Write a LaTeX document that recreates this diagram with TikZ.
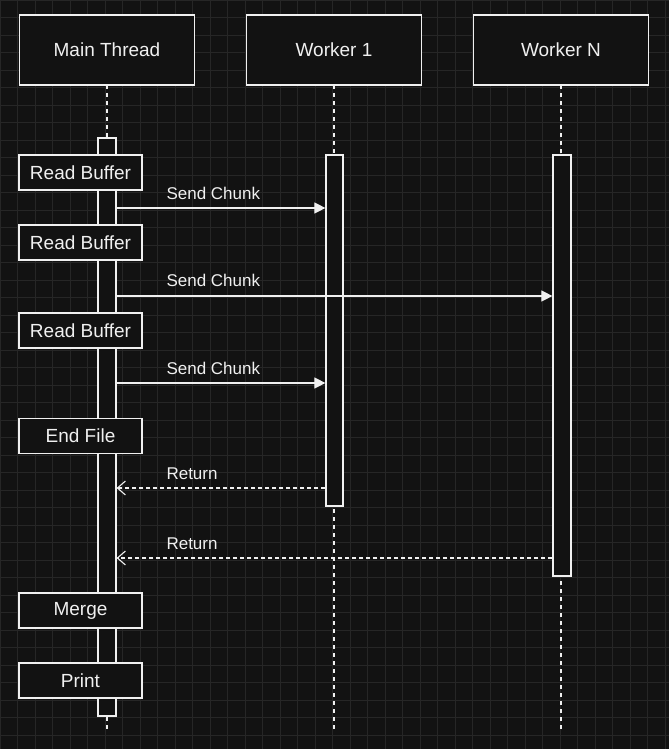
\documentclass[tikz,border=0pt]{standalone}
\usepackage{fontspec}
\setmainfont{Liberation Sans}
\usetikzlibrary{arrows.meta}
\definecolor{bg}{HTML}{121212}
\definecolor{gridc}{HTML}{262626}
\definecolor{fg}{HTML}{F0F0F0}
\tikzset{
  box/.style={draw=fg, line width=1.2pt, fill=bg, text=fg, font=\fontsize{19}{22}\selectfont},
  life/.style={draw=fg, line width=1.1pt, dash pattern=on 4pt off 4pt},
  bar/.style={draw=fg, line width=1.2pt, fill=bg},
  msg/.style={draw=fg, line width=1.1pt, -{Triangle[length=11pt,width=11pt]}},
  ret/.style={draw=fg, line width=1.1pt, dash pattern=on 4pt off 3pt, -{Straight Barb[length=8pt,width=14pt]}},
  lbl/.style={text=fg, font=\fontsize{17}{20}\selectfont, anchor=base west}
}
\begin{document}
\begin{tikzpicture}[x=1pt,y=-1pt]
  \useasboundingbox (0,0) rectangle (669,749);
  \fill[bg] (0,0) rectangle (669,749);
  \draw[gridc, line width=0.6pt, step=17.5pt] (0,0) grid (669,749);
  % lifelines
  \coordinate (mt top) at (107,85);  \coordinate (mt bot) at (107,730);
  \coordinate (w1 top) at (334,85);  \coordinate (w1 bot) at (334,730);
  \coordinate (wn top) at (561,85);  \coordinate (wn bot) at (561,730);
  \draw[life] (mt top) -- (mt bot);
  \draw[life] (w1 top) -- (w1 bot);
  \draw[life] (wn top) -- (wn bot);
  % headers
  \node[box, minimum width=175pt, minimum height=70pt] (main) at (107,50) {Main Thread};
  \node[box, minimum width=175pt, minimum height=70pt] (w1) at (334,50) {Worker 1};
  \node[box, minimum width=175pt, minimum height=70pt] (wn) at (561,50) {Worker N};
  % activation bars
  \node[bar, minimum width=18pt, minimum height=578pt] (mtbar) at (107,427) {};
  \node[bar, minimum width=17pt, minimum height=351pt] (w1bar) at (334.5,330.5) {};
  \node[bar, minimum width=18pt, minimum height=421pt] (wnbar) at (562,365.5) {};
  % steps
  \node[box, minimum width=123pt, minimum height=35pt] (rb1) at (80.5,172.5) {Read Buffer};
  \node[box, minimum width=123pt, minimum height=35pt] (rb2) at (80.5,242.5) {Read Buffer};
  \node[box, minimum width=123pt, minimum height=35pt] (rb3) at (80.5,330.5) {Read Buffer};
  \node[box, minimum width=123pt, minimum height=35pt] (end) at (80.5,436) {End File};
  \node[box, minimum width=123pt, minimum height=35pt] (merge) at (80.5,610.5) {Merge};
  \node[box, minimum width=123pt, minimum height=35pt] (print) at (80.5,680.5) {Print};
  % messages
  \draw[msg] (mtbar.east |- 0,208) -- (w1bar.west |- 0,208);
  \draw[msg] (mtbar.east |- 0,296) -- (wnbar.west |- 0,296);
  \draw[msg] (mtbar.east |- 0,383) -- (w1bar.west |- 0,383);
  \draw[ret] (w1bar.west |- 0,488) -- (mtbar.east |- 0,488);
  \draw[ret] (wnbar.west |- 0,558) -- (mtbar.east |- 0,558);
  \node[lbl] (s1) at (163,199) {Send Chunk};
  \node[lbl] (s2) at (163,286) {Send Chunk};
  \node[lbl] (s3) at (163,374) {Send Chunk};
  \node[lbl] (r1) at (163,479) {Return};
  \node[lbl] (r2) at (163,549) {Return};
\end{tikzpicture}
\end{document}
